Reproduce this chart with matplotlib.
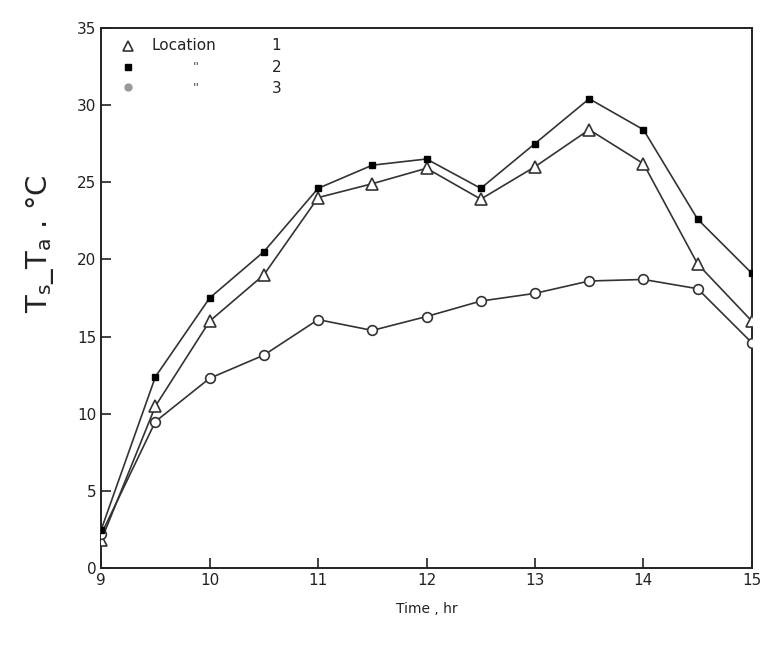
import matplotlib
matplotlib.use("Agg")
import matplotlib.pyplot as plt
from matplotlib.lines import Line2D

time_hr = [9, 9.5, 10, 10.5, 11, 11.5, 12, 12.5, 13, 13.5, 14, 14.5, 15]
loc1 = [1.8, 10.5, 16.0, 19.0, 24.0, 24.9, 25.9, 23.9, 26.0, 28.4, 26.2, 19.7, 16.0]
loc2 = [2.5, 12.4, 17.5, 20.5, 24.6, 26.1, 26.5, 24.6, 27.5, 30.4, 28.4, 22.6, 19.1]
loc3 = [2.2, 9.5, 12.3, 13.8, 16.1, 15.4, 16.3, 17.3, 17.8, 18.6, 18.7, 18.1, 14.6]
xticks = [9, 10, 11, 12, 13, 14, 15]
yticks = [0, 5, 10, 15, 20, 25, 30, 35]

lc = "#333333"
fig = plt.figure(figsize=(7.61, 6.45), dpi=100)
ax = fig.add_axes([0.133, 0.119, 0.855, 0.838])

ax.plot(time_hr, loc1, color=lc, lw=1.2, marker="^", ms=9, mfc="white", mec=lc, mew=1.2, zorder=3)
ax.plot(time_hr, loc2, color=lc, lw=1.2, marker="s", ms=5, mfc="black", mec="black", zorder=4)
ax.plot(time_hr, loc3, color=lc, lw=1.2, marker="o", ms=7, mfc="white", mec=lc, mew=1.2, zorder=3)

ax.set_xlim(9, 15)
ax.set_ylim(0, 35)
ax.set_xticks(xticks)
ax.set_yticks(yticks)
ax.tick_params(direction="in", length=7, width=1.2, labelsize=11, colors="#222222")
for s in ax.spines.values():
    s.set_linewidth(1.4)
    s.set_color("#222222")

ax.set_xlabel("Time , hr", fontsize=10, labelpad=10, color="#222222")
ax.set_ylabel(r"$\mathrm{T_s}$_$\mathrm{T_a}$ . °C", fontsize=21, color="#222222")
ax.yaxis.set_label_coords(-0.07, 0.6)

handles = [
    Line2D([], [], ls="none", marker="^", ms=7, mfc="white", mec=lc, mew=1.2),
    Line2D([], [], ls="none", marker="s", ms=4, mfc="black", mec="black"),
    Line2D([], [], ls="none", marker="o", ms=5, mfc="#999999", mec="#999999"),
]
ax.legend(handles, ["", "", ""], loc="upper left", bbox_to_anchor=(0.016, 0.995),
          frameon=False, handlelength=1, labelspacing=0.45, borderpad=0.2)
rows = [0.968, 0.927, 0.887]
ax.text(0.078, rows[0], "Location", transform=ax.transAxes, fontsize=11, va="center", color="#222222")
for i, lab in enumerate(["1", "2", "3"]):
    ax.text(0.262, rows[i], lab, transform=ax.transAxes, fontsize=11, va="center", color="#222222")
    if i > 0:
        ax.text(0.14, rows[i], "''", transform=ax.transAxes, fontsize=9, va="center", color="#444444")

fig.savefig("out.png", dpi=100)
